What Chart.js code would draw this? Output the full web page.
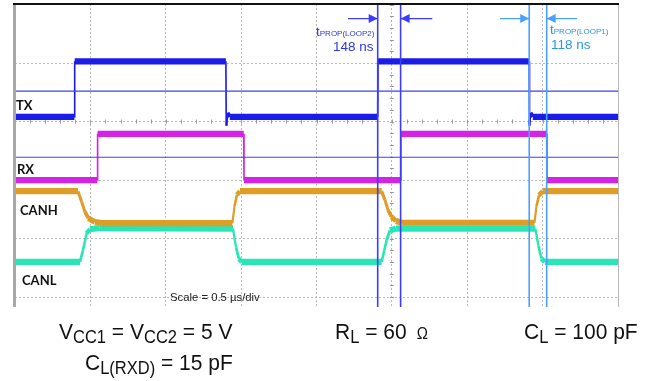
<!DOCTYPE html>
<html>
<head>
<meta charset="utf-8">
<script src="https://cdn.jsdelivr.net/npm/chart.js@4.4.1/dist/chart.umd.min.js"></script>
<style>
  body { margin: 0; background: #fff; }
  #wrap { position: relative; width: 647px; height: 381px; }
  .lbl { position: absolute; font: bold 13px Lato, sans-serif; line-height: 13px; color: #111; }
  .tp { position: absolute; font-family: "Liberation Sans", Arial, sans-serif; line-height: 1; white-space: nowrap; }
  .tp .s { font-size: 8px; }
  .cond { position: absolute; font: 21px "Liberation Sans", Arial, sans-serif; line-height: 21px; color: #111; white-space: nowrap; transform: scaleY(1.08); }
  .cond sub { font-size: 16.5px; vertical-align: -4px; line-height: 0; }
</style>
</head>
<body>
<div id="wrap">
  <canvas id="scope" width="647" height="381"></canvas>
  <div class="lbl" style="left:16px;top:99px">TX</div>
  <div class="lbl" style="left:17px;top:163px">RX</div>
  <div class="lbl" style="left:20px;top:204px">CANH</div>
  <div class="lbl" style="left:22px;top:274px">CANL</div>
  <div class="tp" style="left:170px;top:292px;font-size:11.3px;color:#222">Scale = 0.5 µs/div</div>

  <div class="tp" style="left:316px;top:25px;font-size:13.5px;color:#2a3ad8">t<span class="s">PROP(LOOP2)</span></div>
  <div class="tp" style="left:333px;top:40px;font-size:13.5px;color:#2a3ad8">148 ns</div>
  <div class="tp" style="left:550px;top:23px;font-size:13.5px;color:#2a96e8">t<span class="s">PROP(LOOP1)</span></div>
  <div class="tp" style="left:551px;top:38px;font-size:13.5px;color:#2a96e8">118 ns</div>

  <div class="cond" style="left:59px;top:320px">V<sub>CC1</sub> = V<sub>CC2</sub> = 5 V</div>
  <div class="cond" style="left:85px;top:351px">C<sub>L(RXD)</sub> = 15 pF</div>
  <div class="cond" style="left:335px;top:320px">R<sub>L</sub> = 60 <span style="font-size:15px">&nbsp;Ω</span></div>
  <div class="cond" style="left:524px;top:320px">C<sub>L</sub> = 100 pF</div>
</div>
<script>
// time axis in µs (0.5 µs/div), vertical axis in divisions
const xGrid = [0, 0.5, 1, 1.5, 2, 2.5, 3, 3.5, 4];
const yGrid = [0, 1, 2, 3, 4, 5];

// traces: [time µs, level div]
const txTrace = [[0, 3.08], [0.394, 3.08], [0.396, 4.03], [1.399, 4.03], [1.401, 3.0], [1.403, 2.93],
  [1.41, 3.15], [1.425, 3.08], [2.406, 3.08], [2.408, 4.03], [3.411, 4.03], [3.413, 2.93],
  [3.42, 3.15], [3.435, 3.08], [4, 3.08]];
const rxTrace = [[0, 2.0], [0.546, 2.0], [0.548, 2.79], [1.517, 2.79], [1.519, 2.0], [2.558, 2.0],
  [2.56, 2.79], [3.527, 2.79], [3.529, 2.0], [4, 2.0]];
const canhTrace = [[0, 1.81], [0.418, 1.81], [0.442, 1.63], [0.464, 1.46], [0.486, 1.35], [0.53, 1.28],
  [0.577, 1.265], [1.442, 1.265], [1.456, 1.55], [1.472, 1.75], [1.492, 1.81], [2.432, 1.81],
  [2.454, 1.66], [2.474, 1.49], [2.498, 1.37], [2.527, 1.3], [2.567, 1.27], [3.446, 1.27],
  [3.459, 1.55], [3.476, 1.74], [3.502, 1.81], [4, 1.81]];
const canlTrace = [[0, 0.6], [0.431, 0.6], [0.451, 0.8], [0.475, 1.09], [0.497, 1.16], [0.563, 1.18],
  [1.446, 1.17], [1.466, 0.85], [1.486, 0.65], [1.505, 0.6], [2.432, 0.6], [2.45, 0.8],
  [2.465, 0.97], [2.487, 1.14], [2.527, 1.17], [3.452, 1.17], [3.472, 0.88], [3.492, 0.66],
  [3.515, 0.6], [4, 0.6]];

// markers
const refLevels = [3.52, 2.39];
const loop2Cursors = [2.406, 2.558];
const loop1Cursors = [3.411, 3.527];
const arrowLevel = 4.76;
const loop2Arrows = [[2.209, 2.406], [2.768, 2.558]];
const loop1Arrows = [[3.217, 3.411], [3.728, 3.527]];

const yLo = -0.17, yHi = 5.01;
const pts = arr => arr.map(p => ({ x: p[0], y: p[1] }));

// the scope traces are a noisy band when flat, a thin stroke on fast edges
function bandWidth(ctx) {
  const dx = Math.abs(ctx.p1.x - ctx.p0.x), dy = Math.abs(ctx.p1.y - ctx.p0.y);
  const c = dx / (Math.hypot(dx, dy) || 1);
  return 1.6 + 4.6 * c;
}

function trace(data, color, order) {
  return { data: pts(data), borderColor: color, borderWidth: 6, order: order,
    segment: { borderWidth: bandWidth } };
}
function cursor(t, color) {
  return { data: [{ x: t, y: yLo }, { x: t, y: yHi }], borderColor: color, borderWidth: 1.6, order: 0 };
}
function arrow(a, color) {
  return { data: [{ x: a[0], y: arrowLevel }, { x: a[1], y: arrowLevel }], borderColor: color,
    borderWidth: 1.2, order: 0, arrowHead: true };
}

const datasets = [
  trace(canlTrace, '#2ae6b6', 5),
  trace(canhTrace, '#de9d26', 4),
  trace(rxTrace, '#d422e6', 3),
  trace(txTrace, '#1c1ce8', 2),
  ...refLevels.map(v => ({ data: [{ x: 0, y: v }, { x: 4, y: v }], borderColor: '#4040ee', borderWidth: 1.1, order: 1 })),
  ...loop2Cursors.map(t => cursor(t, '#3c3cff')),
  ...loop1Cursors.map(t => cursor(t, '#4aa0ff')),
  ...loop2Arrows.map(a => arrow(a, '#3c3cff')),
  ...loop1Arrows.map(a => arrow(a, '#4aa0ff'))
];

const scopeDecor = {
  id: 'scopeDecor',
  beforeDatasetsDraw(chart) {
    const { ctx, scales: { x, y } } = chart;
    ctx.save();
    ctx.strokeStyle = '#9a9a9a';
    ctx.lineWidth = 1;
    ctx.beginPath();
    const yc = y.getPixelForValue(3);
    for (let t = 0; t <= 4.0001; t += 0.1) {
      const px = Math.round(x.getPixelForValue(t)) + 0.5;
      ctx.moveTo(px, yc - 2); ctx.lineTo(px, yc + 2);
    }
    const xc = x.getPixelForValue(2.5);
    for (let v = 5; v >= yLo; v -= 0.2) {
      const py = Math.round(y.getPixelForValue(v)) + 0.5;
      ctx.moveTo(xc - 2, py); ctx.lineTo(xc + 2, py);
    }
    ctx.stroke();
    ctx.restore();
  },
  afterDatasetsDraw(chart) {
    const { ctx, chartArea: ca } = chart;
    ctx.save();
    // arrow heads
    chart.data.datasets.forEach((ds, i) => {
      if (!ds.arrowHead) return;
      const el = chart.getDatasetMeta(i).data;
      const a = el[0], b = el[1];
      const dir = Math.sign(b.x - a.x);
      ctx.fillStyle = ds.borderColor;
      ctx.beginPath();
      ctx.moveTo(b.x, b.y);
      ctx.lineTo(b.x - dir * 9, b.y - 4.5);
      ctx.lineTo(b.x - dir * 9, b.y + 4.5);
      ctx.closePath();
      ctx.fill();
    });
    // frame
    ctx.fillStyle = '#a8a8a8';
    ctx.fillRect(ca.left - 2, ca.top, 3, ca.bottom - ca.top);
    ctx.fillStyle = '#b8b8b8';
    ctx.fillRect(ca.right, ca.top, 1, ca.bottom - ca.top);
    ctx.fillStyle = '#111';
    ctx.fillRect(ca.left - 2, ca.top - 1, ca.right - ca.left + 3, 2);
    ctx.restore();
  }
};

const gridOpts = { color: '#b9b9b9', lineWidth: 1, drawTicks: false };
const borderOpts = { display: false, dash: [2, 2] };

new Chart(document.getElementById('scope'), {
  type: 'line',
  data: { datasets: datasets },
  options: {
    responsive: false,
    animation: false,
    layout: { padding: { left: 15, top: 4, right: 29, bottom: 74 } },
    elements: { point: { radius: 0 }, line: { tension: 0 } },
    plugins: { legend: { display: false }, tooltip: { enabled: false } },
    scales: {
      x: {
        type: 'linear', min: 0, max: 4,
        afterBuildTicks: s => { s.ticks = xGrid.map(v => ({ value: v })); },
        ticks: { display: false }, grid: gridOpts, border: borderOpts
      },
      y: {
        type: 'linear', min: yLo, max: yHi,
        afterBuildTicks: s => { s.ticks = yGrid.map(v => ({ value: v })); },
        ticks: { display: false }, grid: gridOpts, border: borderOpts
      }
    }
  },
  plugins: [scopeDecor]
});
</script>
</body>
</html>
